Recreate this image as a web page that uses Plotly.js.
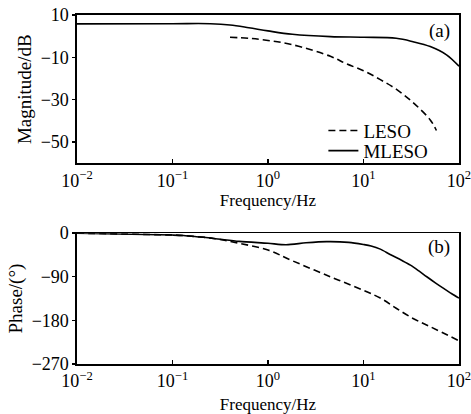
<!DOCTYPE html>
<html>
<head>
<meta charset="utf-8">
<script src="https://cdn.plot.ly/plotly-3.0.1.min.js"></script>
<style>html,body{margin:0;padding:0;background:#fff;}#chart{width:471px;height:414px;}</style>
</head>
<body>
<div id="chart"></div>
<script>
// Magnitude (a)
var magMlesoFreq = [0.01, 0.1, 0.25, 0.4, 0.63, 1, 1.8, 4.5, 10, 22, 33, 50, 74, 100];
var magMlesoDb   = [5.8, 5.9, 5.9, 5.3, 4.0, 2.5, 0.9, -0.2, -0.5, -1.0, -2.6, -4.9, -8.8, -14.2];
var magLesoFreq  = [0.4, 0.63, 1, 1.8, 4.5, 6.6, 10, 15, 22, 33, 50, 58];
var magLesoDb    = [-0.5, -1.0, -2.0, -4.0, -9.5, -13, -16.3, -20.5, -25, -31.3, -39.5, -44.5];
// Phase (b)
var phMlesoFreq = [0.01, 0.1, 0.13, 0.27, 0.5, 1, 1.55, 2.5, 4.1, 7, 10, 12, 15, 19, 25, 31, 38, 46, 57, 69, 84, 100];
var phMlesoDeg  = [0, -4, -5, -11, -17, -21, -24, -20, -17.5, -19, -23.5, -26.5, -33, -44, -56, -66, -78, -90, -103, -114, -125, -134];
var phLesoFreq  = [0.01, 0.1, 0.13, 0.27, 0.5, 1, 1.8, 4.5, 10, 15, 22, 33, 50, 100];
var phLesoDeg   = [0, -4, -5, -11, -21, -35, -57, -90, -118, -134, -155, -176, -193, -222];
// Ticks
var freqTickVals = [0.01, 0.1, 1, 10, 100];
var freqTickText = ['10<sup>\u22122</sup>', '10<sup>\u22121</sup>', '10<sup>0</sup>', '10<sup>1</sup>', '10<sup>2</sup>'];
var magTickVals = [10, -10, -30, -50];
var phTickVals = [0, -90, -180, -270];
var seriesNames = ['LESO', 'MLESO'];
var panelLabels = ['(a)', '(b)'];

var serif = 'Liberation Serif, Times New Roman, serif';
var lineW = 1.6;

var traces = [
  {x: magLesoFreq, y: magLesoDb, xaxis: 'x', yaxis: 'y', mode: 'lines', name: seriesNames[0],
   line: {color: '#000', width: lineW, dash: '7px,4px', shape: 'spline'}, legend: 'legend', showlegend: true},
  {x: magMlesoFreq, y: magMlesoDb, xaxis: 'x', yaxis: 'y', mode: 'lines', name: seriesNames[1],
   line: {color: '#000', width: lineW, shape: 'spline'}, legend: 'legend2', showlegend: true},
  {x: phLesoFreq, y: phLesoDeg, xaxis: 'x2', yaxis: 'y2', mode: 'lines', name: seriesNames[0],
   line: {color: '#000', width: lineW, dash: '7px,4px', shape: 'spline'}, showlegend: false},
  {x: phMlesoFreq, y: phMlesoDeg, xaxis: 'x2', yaxis: 'y2', mode: 'lines', name: seriesNames[1],
   line: {color: '#000', width: lineW, shape: 'spline', smoothing: 0.8}, showlegend: false}
];

function xAxis(anchor, standoff) {
  return {
    type: 'log', range: [-2, 2], anchor: anchor,
    tickmode: 'array', tickvals: freqTickVals, ticktext: freqTickText,
    ticks: 'inside', ticklen: 4, tickwidth: 1.3, tickcolor: '#000',
    showline: true, linecolor: '#000', linewidth: 1.6, mirror: true,
    showgrid: false, zeroline: false, ticklabeloverflow: 'allow',
    tickfont: {family: serif, size: 18, color: '#000'},
    title: {text: 'Frequency/Hz', font: {family: serif, size: 17, color: '#000'}, standoff: standoff},
    automargin: false
  };
}
function yAxis(domain, range, vals, title) {
  return {
    domain: domain, range: range,
    tickmode: 'array', tickvals: vals,
    ticks: 'outside', ticklen: 3, tickwidth: 1.3, tickcolor: '#000',
    showline: true, linecolor: '#000', linewidth: 1.6, mirror: true,
    showgrid: false, zeroline: false, ticklabeloverflow: 'allow',
    tickfont: {family: serif, size: 18, color: '#000'},
    title: {text: title, font: {family: serif, size: 19, color: '#000'}, standoff: 4},
    automargin: false
  };
}

var layout = {
  width: 471, height: 414,
  margin: {l: 77, r: 12, t: 15, b: 50},
  paper_bgcolor: '#fff', plot_bgcolor: '#fff',
  font: {family: serif, color: '#000'},
  xaxis: xAxis('y', 1),
  yaxis: yAxis([0.575, 1], [-60, 10], magTickVals, 'Magnitude/dB'),
  xaxis2: xAxis('y2', 9),
  yaxis2: yAxis([0, 0.375], [-270, 0], phTickVals, 'Phase/(\u00B0)'),
  legend: {x: 0.645, xanchor: 'left', y: 0.6685, yanchor: 'middle', bgcolor: 'rgba(0,0,0,0)',
           font: {family: serif, size: 19, color: '#000'}, borderwidth: 0},
  legend2: {x: 0.645, xanchor: 'left', y: 0.611, yanchor: 'middle', bgcolor: 'rgba(0,0,0,0)',
           font: {family: serif, size: 19, color: '#000'}, borderwidth: 0},
  annotations: [
    {text: panelLabels[0], xref: 'paper', yref: 'paper', x: 0.948, y: 0.954, showarrow: false,
     xanchor: 'center', yanchor: 'middle', font: {family: serif, size: 19, color: '#000'}},
    {text: panelLabels[1], xref: 'paper', yref: 'paper', x: 0.948, y: 0.335, showarrow: false,
     xanchor: 'center', yanchor: 'middle', font: {family: serif, size: 19, color: '#000'}}
  ],
  showlegend: true
};

Plotly.newPlot('chart', traces, layout, {staticPlot: true, displayModeBar: false});
</script>
</body>
</html>
